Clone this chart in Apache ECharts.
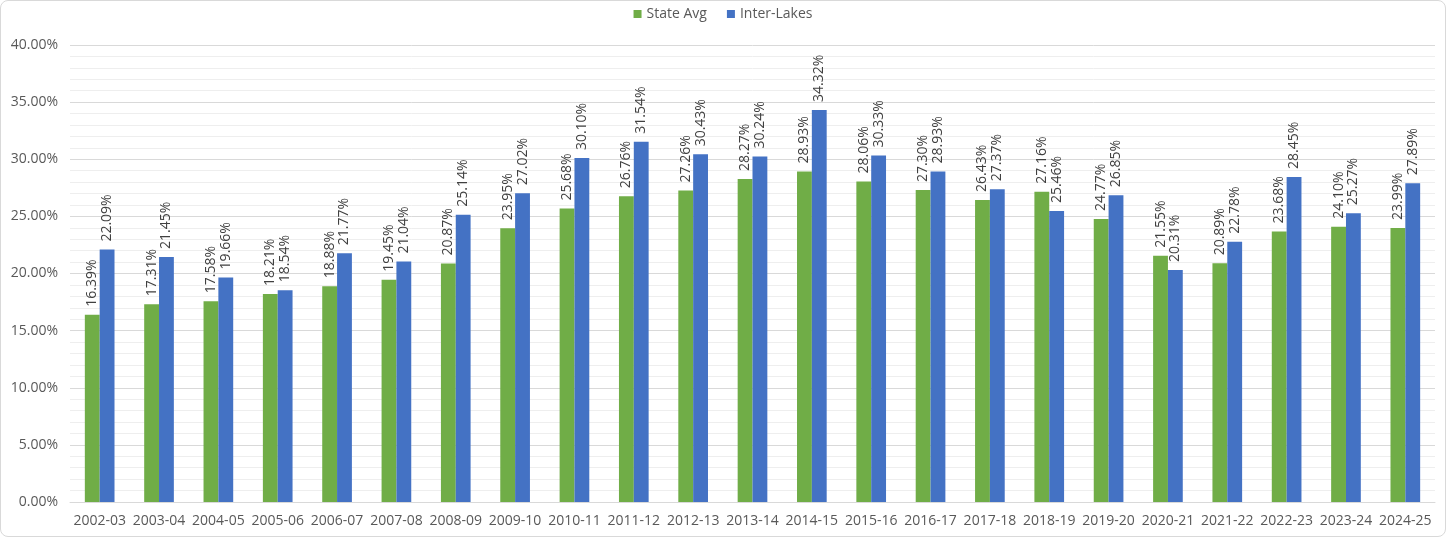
<!DOCTYPE html>
<html>
<head>
<meta charset="utf-8">
<script src="https://cdn.jsdelivr.net/npm/echarts@6/dist/echarts.min.js"></script>
<style>
  html, body { margin: 0; padding: 0; background: #fff; }
  #wrap { position: absolute; left: 0; top: 0; width: 1444px; height: 535px; border: 1px solid #d9d9d9; border-radius: 8px; overflow: hidden; }
  #chart { width: 1444px; height: 535px; }
</style>
</head>
<body>
<div id="wrap"><div id="chart"></div></div>
<script>
// School years shown on the category axis
const years = ['2002-03','2003-04','2004-05','2005-06','2006-07','2007-08','2008-09','2009-10','2010-11','2011-12','2012-13','2013-14','2014-15','2015-16','2016-17','2017-18','2018-19','2019-20','2020-21','2021-22','2022-23','2023-24','2024-25'];
// Percentages per year
const stateAvg = [16.39,17.31,17.58,18.21,18.88,19.45,20.87,23.95,25.68,26.76,27.26,28.27,28.93,28.06,27.30,26.43,27.16,24.77,21.55,20.89,23.68,24.10,23.99];
const interLakes = [22.09,21.45,19.66,18.54,21.77,21.04,25.14,27.02,30.10,31.54,30.43,30.24,34.32,30.33,28.93,27.37,25.46,26.85,20.31,22.78,28.45,25.27,27.89];

const FONT = '"Open Sans", "Noto Sans", sans-serif';
const chart = echarts.init(document.getElementById('chart'), null, { renderer: 'canvas' });

const barLabel = {
  show: true,
  position: 'top',
  rotate: 90,
  align: 'left',
  verticalAlign: 'middle',
  distance: 8,
  color: '#404040',
  fontFamily: FONT,
  fontSize: 14,
  formatter: p => p.value.toFixed(2) + '%'
};

chart.setOption({
  animation: false,
  legend: {
    top: 1,
    left: 'center',
    itemWidth: 8,
    itemHeight: 8,
    itemGap: 20,
    icon: 'rect',
    textStyle: { color: '#595959', fontFamily: FONT, fontSize: 14 }
  },
  grid: { left: 69, right: 10, top: 44, bottom: 34, containLabel: false },
  xAxis: {
    type: 'category',
    data: years,
    axisTick: { show: false },
    axisLine: { lineStyle: { color: '#d9d9d9' } },
    axisLabel: { color: '#595959', fontFamily: FONT, fontSize: 14, margin: 12, interval: 0 }
  },
  yAxis: {
    type: 'value',
    min: 0,
    max: 40,
    interval: 5,
    axisLine: { show: false },
    axisTick: { show: false },
    axisLabel: { color: '#595959', fontFamily: FONT, fontSize: 14, margin: 12, formatter: v => v.toFixed(2) + '%' },
    splitLine: { lineStyle: { color: '#d9d9d9', width: 1 } },
    minorTick: { show: false, splitNumber: 5 },
    minorSplitLine: { show: true, lineStyle: { color: '#eeeeee', width: 1 } }
  },
  series: [
    {
      name: 'State Avg',
      type: 'bar',
      data: stateAvg,
      barWidth: '25%',
      barGap: '0%',
      itemStyle: { color: '#70ad47' },
      label: barLabel
    },
    {
      name: 'Inter-Lakes',
      type: 'bar',
      data: interLakes,
      barWidth: '25%',
      barGap: '0%',
      itemStyle: { color: '#4472c4' },
      label: barLabel
    }
  ]
});
</script>
</body>
</html>
